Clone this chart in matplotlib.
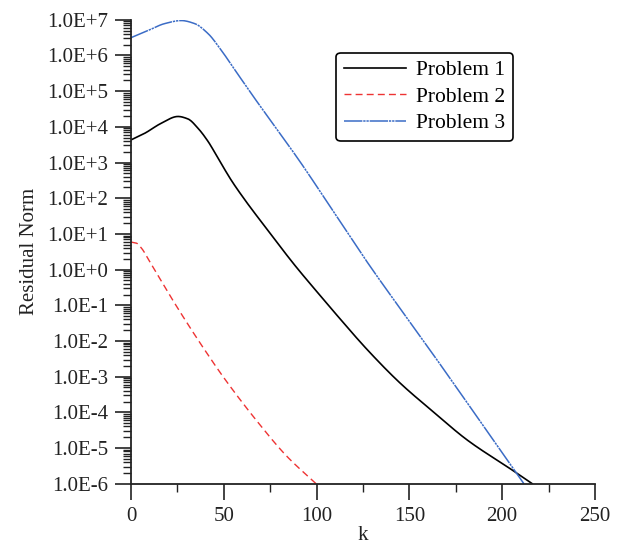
import numpy as np
import matplotlib
matplotlib.use("Agg")
import matplotlib.pyplot as plt
from matplotlib.ticker import FixedLocator, LogLocator, FuncFormatter, MultipleLocator

plt.rcParams['font.family'] = ['Liberation Serif', 'DejaVu Serif']

# Problem 1
k1 = [0, 7.4, 16.3, 25.3, 30.7, 36.1, 41.5, 46.9, 54, 61.4, 74.9, 87.4, 101.8, 109,
      128, 145, 163, 181, 206, 216.2]
r1 = [4.3e3, 6.6e3, 1.26e4, 1.95e4, 1.66e4, 9.1e3, 3.9e3, 1.32e3, 3.2e2, 8.9e1, 1.05e1,
      1.5e0, 1.9e-1, 6.9e-2, 5.2e-3, 6.6e-4, 1.02e-4, 1.7e-5, 2.3e-6, 1.0e-6]

# Problem 2
k2 = [0, 2.9, 5.6, 10.1, 18.3, 21.7, 32.7, 39.9, 49.7, 67.7, 83.9, 99.7]
r2 = [5.9e0, 5.5e0, 4.0e0, 1.66e0, 3.2e-1, 1.62e-1, 2.0e-2, 5.4e-3, 9.8e-4, 5.8e-5,
      5.9e-6, 1.0e-6]

# Problem 3
k3 = [0, 9.2, 18.1, 27.1, 34.3, 41.5, 48.7, 56.8, 65.9, 91.1, 109, 127, 161.1, 211.7]
r3 = [3.15e6, 5.0e6, 7.8e6, 9.5e6, 7.8e6, 4.1e6, 1.38e6, 3.4e5, 7.1e4, 1.05e3, 4.3e1,
      1.7e0, 5.6e-3, 1.0e-6]

labels = ['Problem 1', 'Problem 2', 'Problem 3']


def pchip(k, r, n=400):
    # shape-preserving cubic through the read points, in log space
    k = np.asarray(k, float)
    lr = np.log10(np.asarray(r, float))
    h = np.diff(k)
    d = np.diff(lr) / h
    m = np.zeros_like(lr)
    for i in range(1, len(k) - 1):
        if d[i - 1] * d[i] > 0:
            w1 = 2 * h[i] + h[i - 1]
            w2 = h[i] + 2 * h[i - 1]
            m[i] = (w1 + w2) / (w1 / d[i - 1] + w2 / d[i])
    m[0] = d[0]
    m[-1] = d[-1]
    kk = np.linspace(k[0], k[-1], n)
    i = np.clip(np.searchsorted(k, kk, side='right') - 1, 0, len(k) - 2)
    t = (kk - k[i]) / h[i]
    out = ((2 * t**3 - 3 * t**2 + 1) * lr[i] + (t**3 - 2 * t**2 + t) * h[i] * m[i]
           + (-2 * t**3 + 3 * t**2) * lr[i + 1] + (t**3 - t**2) * h[i] * m[i + 1])
    return kk, 10 ** out


fig = plt.figure(figsize=(6.21, 5.49), dpi=100)
ax = fig.add_axes([0.211, 0.119, 0.747, 0.845])

x, y = pchip(k1, r1)
ax.plot(x, y, color='black', lw=1.2, label=labels[0])
x, y = pchip(k2, r2)
ax.plot(x, y, color='#ee3333', lw=1.0, ls=(0, (5, 3)), label=labels[1])
x, y = pchip(k3, r3)
ax.plot(x, y, color='#3b6cc6', lw=1.1, ls=(0, (12, 0.6, 1.5, 0.6, 1.5, 0.6)), label=labels[2])

ax.set_yscale('log')
ax.set_xlim(0, 250)
ax.set_ylim(1e-6, 1e7)
ax.yaxis.set_major_locator(FixedLocator([10.0 ** e for e in range(-6, 8)]))
ax.yaxis.set_minor_locator(LogLocator(base=10, subs=np.arange(2, 10), numticks=100))
ax.yaxis.set_major_formatter(FuncFormatter(lambda v, p: "1.0E%+d" % int(round(np.log10(v)))))
ax.yaxis.set_minor_formatter(FuncFormatter(lambda v, p: ""))
ax.xaxis.set_major_locator(MultipleLocator(50))
ax.xaxis.set_minor_locator(MultipleLocator(25))

for s in ['top', 'right']:
    ax.spines[s].set_visible(False)
for s in ['left', 'bottom']:
    ax.spines[s].set_linewidth(1.3)
    ax.spines[s].set_color('#222222')

ax.tick_params(which='major', direction='out', length=11.5, width=1.2, labelsize=15,
               pad=5, colors='#222222')
ax.tick_params(which='minor', direction='out', length=5.8, width=1.0, colors='#222222')

ax.set_xlabel('k', fontsize=15, color='#222222', labelpad=0)
ax.set_ylabel('Residual Norm', fontsize=15, color='#222222', labelpad=6)

leg = ax.legend(loc='upper right', bbox_to_anchor=(0.823, 0.929), fontsize=15.5,
                fancybox=True, framealpha=1, edgecolor='black', handlelength=2.9,
                labelspacing=0.3, borderpad=0.35, handletextpad=0.45, borderaxespad=0)
leg.get_frame().set_linewidth(1.2)

fig.savefig('out.png', dpi=100)
